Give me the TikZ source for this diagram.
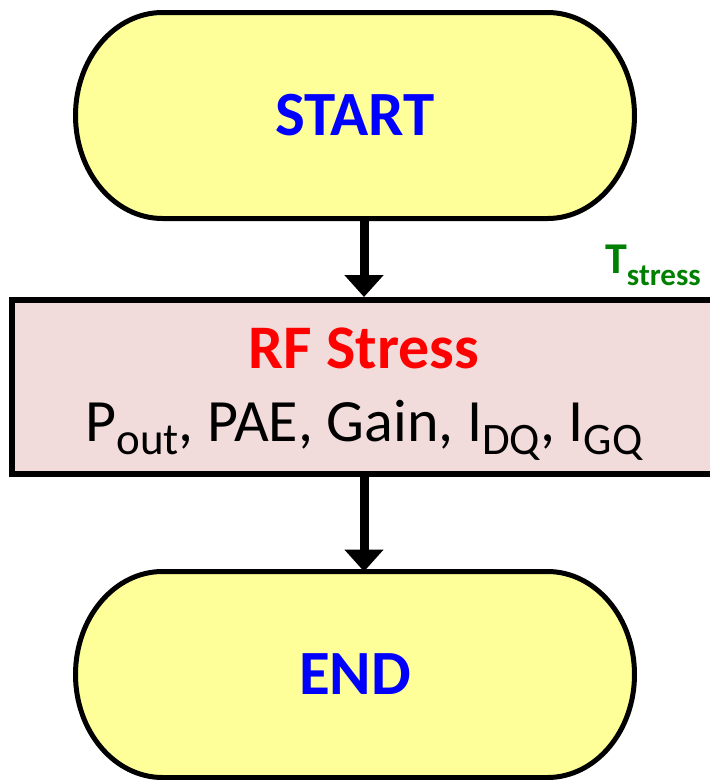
\documentclass[tikz,border=0pt]{standalone}
\usepackage{fontspec}
\setmainfont{Carlito}
\usetikzlibrary{backgrounds,arrows.meta}
\definecolor{pillyellow}{RGB}{255,255,153}
\definecolor{stresspink}{RGB}{242,220,219}
\definecolor{tgreen}{RGB}{0,128,0}
\newcommand\subtxt[3]{\raisebox{-#1}{\fontsize{#2}{#2}\selectfont #3}}

\begin{document}
\begin{tikzpicture}[x=1pt,y=-1pt,
  term/.style={minimum width=559pt,minimum height=206pt,inner sep=0pt,outer sep=0pt,
    text=blue,font=\fontsize{63}{70}\selectfont\bfseries},
  pill/.style={line width=5pt,fill=pillyellow},
  stressbox/.style={draw,line width=6pt,fill=stresspink,minimum width=704pt,minimum height=174pt,
    align=center,text depth=4pt,font=\fontsize{60}{78}\selectfont},
  flow/.style={line width=9pt,-{Triangle[length=22pt,width=38pt]}}]
\path[use as bounding box,clip] (0,0) rectangle (710,780);
\node[term] (start) at (355,115.5) {START};
\node[stressbox] (box) at (364,387) {{\color{red}\bfseries\fontsize{62}{78}\selectfont RF Stress}\\[-5pt]
  P\subtxt{13pt}{45}{out}, PAE, Gain, I\subtxt{13pt}{45}{DQ}, I\subtxt{13pt}{45}{GQ}};
\node[term] (end) at (355,674.5) {END};
\node[anchor=base west,inner sep=0pt,text=tgreen,font=\fontsize{44}{44}\selectfont\bfseries] (tstress) at (605,273) {T\subtxt{12pt}{31}{stress}};
\begin{scope}[on background layer]
\foreach \n in {start,end}
  \draw[pill] ([xshift=87pt]\n.north west) -- ([xshift=-87pt]\n.north east)
    arc[start angle=90,end angle=-90,x radius=87pt,y radius=103pt]
    -- ([xshift=87pt]\n.south west)
    arc[start angle=270,end angle=90,x radius=87pt,y radius=103pt] -- cycle;
\end{scope}
\draw[flow] (start.south -| box) -- (box.north);
\draw[flow] (box.south) -- (end.north -| box);
\end{tikzpicture}
\end{document}
